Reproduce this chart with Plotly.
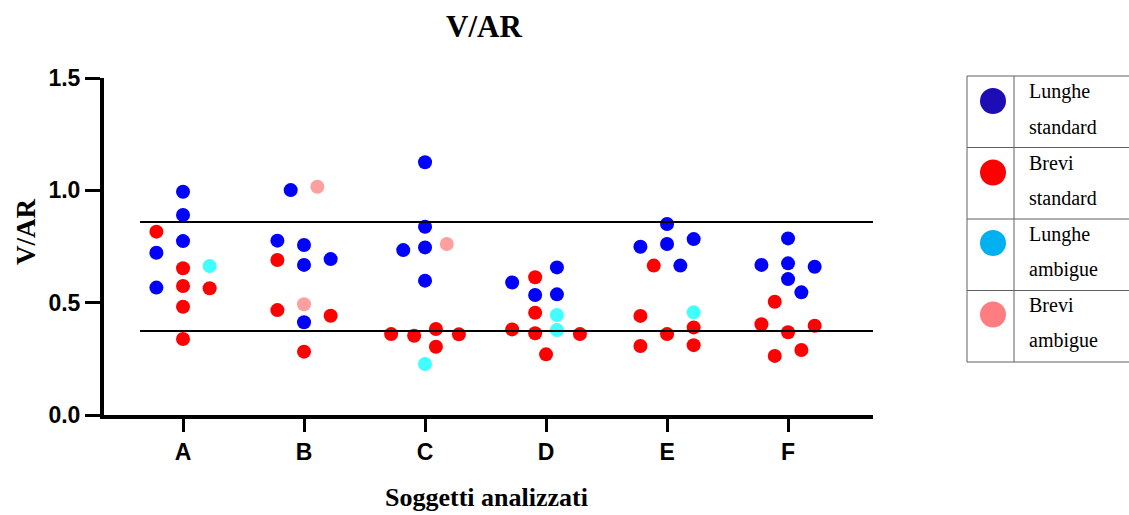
import plotly.graph_objects as go

# ---------------- data ----------------
categories = ["A", "B", "C", "D", "E", "F"]

# Lunghe standard
ls_cat = ["A", "A", "A", "A", "A",
          "B", "B", "B", "B", "B", "B",
          "C", "C", "C", "C", "C",
          "D", "D", "D", "D",
          "E", "E", "E", "E", "E",
          "F", "F", "F", "F", "F", "F"]
ls_val = [0.994, 0.890, 0.774, 0.722, 0.567,
          1.001, 0.776, 0.757, 0.668, 0.694, 0.413,
          1.125, 0.838, 0.746, 0.734, 0.598,
          0.657, 0.590, 0.534, 0.537,
          0.850, 0.749, 0.761, 0.783, 0.665,
          0.786, 0.668, 0.675, 0.660, 0.605, 0.546]
ls_jit = [0, 0, 0, -0.22, -0.22,
          -0.11, -0.22, 0, 0, 0.22, 0,
          0, 0, 0, -0.18, 0,
          0.09, -0.28, -0.09, 0.09,
          0, -0.22, 0, 0.22, 0.11,
          0, -0.22, 0, 0.22, 0, 0.11]

# Brevi standard
bs_cat = ["A", "A", "A", "A", "A", "A",
          "B", "B", "B", "B",
          "C", "C", "C", "C", "C",
          "D", "D", "D", "D", "D", "D",
          "E", "E", "E", "E", "E", "E",
          "F", "F", "F", "F", "F", "F"]
bs_val = [0.816, 0.653, 0.574, 0.564, 0.482, 0.338,
          0.690, 0.467, 0.442, 0.282,
          0.360, 0.353, 0.383, 0.359, 0.304,
          0.613, 0.455, 0.381, 0.364, 0.360, 0.270,
          0.665, 0.441, 0.360, 0.390, 0.307, 0.311,
          0.504, 0.404, 0.397, 0.368, 0.289, 0.263]
bs_jit = [-0.22, 0, 0, 0.22, 0, 0,
          -0.22, -0.22, 0.22, 0,
          -0.28, -0.09, 0.09, 0.28, 0.09,
          -0.09, -0.09, -0.28, -0.09, 0.28, 0,
          -0.11, -0.22, 0, 0.22, -0.22, 0.22,
          -0.11, -0.22, 0.22, 0, 0.11, -0.11]

# Lunghe ambigue
la_cat = ["A", "C", "D", "D", "E"]
la_val = [0.663, 0.227, 0.445, 0.378, 0.457]
la_jit = [0.22, 0, 0.09, 0.09, 0.22]

# Brevi ambigue
ba_cat = ["B", "B", "C"]
ba_val = [1.016, 0.493, 0.761]
ba_jit = [0.11, 0, 0.18]

# reference lines
ref_lines = [0.859, 0.374]

legend_labels = [("Lunghe", "standard"), ("Brevi", "standard"),
                 ("Lunghe", "ambigue"), ("Brevi", "ambigue")]

# ---------------- styling ----------------
plot_colors = ["#0000FF", "#FF0000", "#40FFFF", "#FFA0A0"]
legend_colors = ["#1C0DB5", "#FF0000", "#00B0F0", "#FF7C80"]

L, R, T, B = 104, 873, 78, 415
W, H = R - L, B - T


def px(x):
    return (x - L) / W


def py(y):
    return (B - y) / H


fig = go.Figure()

series = [(ls_cat, ls_val, ls_jit), (bs_cat, bs_val, bs_jit),
          (la_cat, la_val, la_jit), (ba_cat, ba_val, ba_jit)]
for (cats, vals, jit), col in zip(series, plot_colors):
    xs = [categories.index(c) + j for c, j in zip(cats, jit)]
    fig.add_trace(go.Scatter(x=xs, y=vals, mode="markers",
                             marker=dict(size=14, color=col, line=dict(width=0)),
                             showlegend=False, hoverinfo="y"))

shapes = []
for v in ref_lines:
    shapes.append(dict(type="line", xref="x", yref="y", x0=-0.355, x1=5.72,
                       y0=v, y1=v, line=dict(color="black", width=2), layer="above"))

# legend table
gray = "#606060"
tl, tr, tdiv = 967, 1135, 1014
ttop, tbot = 76, 362
rows = [76, 147.5, 219, 290.5, 362]
shapes.append(dict(type="rect", xref="paper", yref="paper",
                   x0=px(tl), x1=px(tr), y0=py(tbot), y1=py(ttop),
                   line=dict(color=gray, width=1)))
shapes.append(dict(type="line", xref="paper", yref="paper",
                   x0=px(tdiv), x1=px(tdiv), y0=py(tbot), y1=py(ttop),
                   line=dict(color=gray, width=1)))
for ry in rows[1:-1]:
    shapes.append(dict(type="line", xref="paper", yref="paper",
                       x0=px(tl), x1=px(tr), y0=py(ry), y1=py(ry),
                       line=dict(color=gray, width=1)))
circle_y = [101, 172.5, 243, 314.5]
for cy, col in zip(circle_y, legend_colors):
    shapes.append(dict(type="circle", xref="paper", yref="paper",
                       xsizemode="pixel", ysizemode="pixel",
                       xanchor=px(993), yanchor=py(cy),
                       x0=-13, x1=13, y0=-13, y1=13,
                       fillcolor=col, line=dict(width=0)))

annotations = []
serif = "Liberation Serif"
line_y = [91, 127, 163, 198, 234, 269, 305, 340]
k = 0
for a, b in legend_labels:
    for t in (a, b):
        annotations.append(dict(text=t, xref="paper", yref="paper",
                                x=px(1027), y=py(line_y[k]), xanchor="left",
                                yanchor="middle", showarrow=False,
                                font=dict(family=serif, size=20, color="black")))
        k += 1

# titles
annotations.append(dict(text="<b>V/AR</b>", xref="paper", yref="paper",
                        x=px(484), y=py(26), xanchor="center", yanchor="middle",
                        showarrow=False, font=dict(family=serif, size=31, color="black")))
annotations.append(dict(text="<b>Soggetti analizzati</b>", xref="paper", yref="paper",
                        x=px(486), y=py(497), xanchor="center", yanchor="middle",
                        showarrow=False, font=dict(family=serif, size=26, color="black")))
annotations.append(dict(text="<b>V/AR</b>", xref="paper", yref="paper",
                        x=px(26), y=py(232), xanchor="center", yanchor="middle",
                        textangle=-90, showarrow=False,
                        font=dict(family=serif, size=27, color="black")))

tickfont = dict(family="Liberation Sans", size=23, color="black", weight="bold")

fig.update_layout(
    width=1129, height=515,
    margin=dict(l=L, r=1129 - R, t=T, b=515 - B, pad=0),
    plot_bgcolor="white", paper_bgcolor="white",
    shapes=shapes, annotations=annotations,
    xaxis=dict(range=[-0.653, 5.702], tickmode="array",
               tickvals=list(range(len(categories))), ticktext=categories,
               showgrid=False, zeroline=False, showline=True, linecolor="black",
               linewidth=4, ticks="outside", ticklen=13, tickwidth=3,
               tickcolor="black", tickfont=tickfont),
    yaxis=dict(range=[0, 1.5], tickmode="array", tickvals=[0, 0.5, 1.0, 1.5],
               ticktext=["0.0", "0.5", "1.0", "1.5"],
               showgrid=False, zeroline=False, showline=True, linecolor="black",
               linewidth=4, ticks="outside", ticklen=15, tickwidth=3,
               tickcolor="black", tickfont=tickfont),
)

fig.write_html("out.html")
